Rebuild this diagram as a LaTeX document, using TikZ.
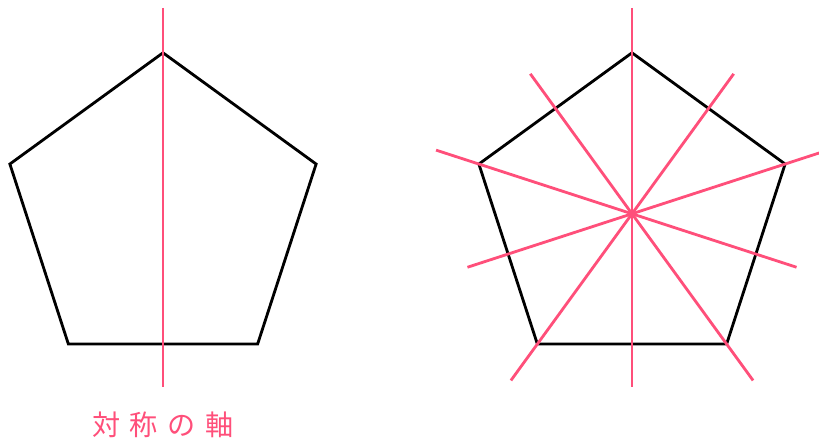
\documentclass[tikz,border=0pt]{standalone}
\usepackage{fontspec}
\newfontfamily\jpfont{Noto Sans CJK JP}
\usetikzlibrary{calc}
\definecolor{axispink}{HTML}{FF4F7A}

\begin{document}
\begin{tikzpicture}[
  pent/.style={line width=0.8pt, black, line join=miter},
  axis/.style={line width=0.8pt, axispink},
  axlabel/.style={font=\jpfont\fontsize{8pt}{9pt}\selectfont, text=axispink}
]
\useasboundingbox (0,0) rectangle (8.19,4.39);
% centres
\coordinate (cl) at (1.63,2.252);
\coordinate (cr) at (6.32,2.252);
% left pentagon, one axis
\draw[pent] ($(cl)+(90:1.61)$) -- ($(cl)+(162:1.61)$) -- ($(cl)+(234:1.61)$)
  -- ($(cl)+(306:1.61)$) -- ($(cl)+(18:1.61)$) -- cycle;
\draw[axis] ($(cl)+(90:2.06)$) -- ($(cl)+(270:1.73)$);
% right pentagon, five axes
\draw[pent] ($(cr)+(90:1.61)$) -- ($(cr)+(162:1.61)$) -- ($(cr)+(234:1.61)$)
  -- ($(cr)+(306:1.61)$) -- ($(cr)+(18:1.61)$) -- cycle;
\foreach \a in {90,162,234,306,18}
  \draw[axis] ($(cr)+(\a:2.06)$) -- ($(cr)+(\a+180:1.73)$);
% label
\node[axlabel] (lbl) at (1.63,0.14) {対\hspace{0.35em}称\hspace{0.35em}の\hspace{0.35em}軸};
\end{tikzpicture}
\end{document}
